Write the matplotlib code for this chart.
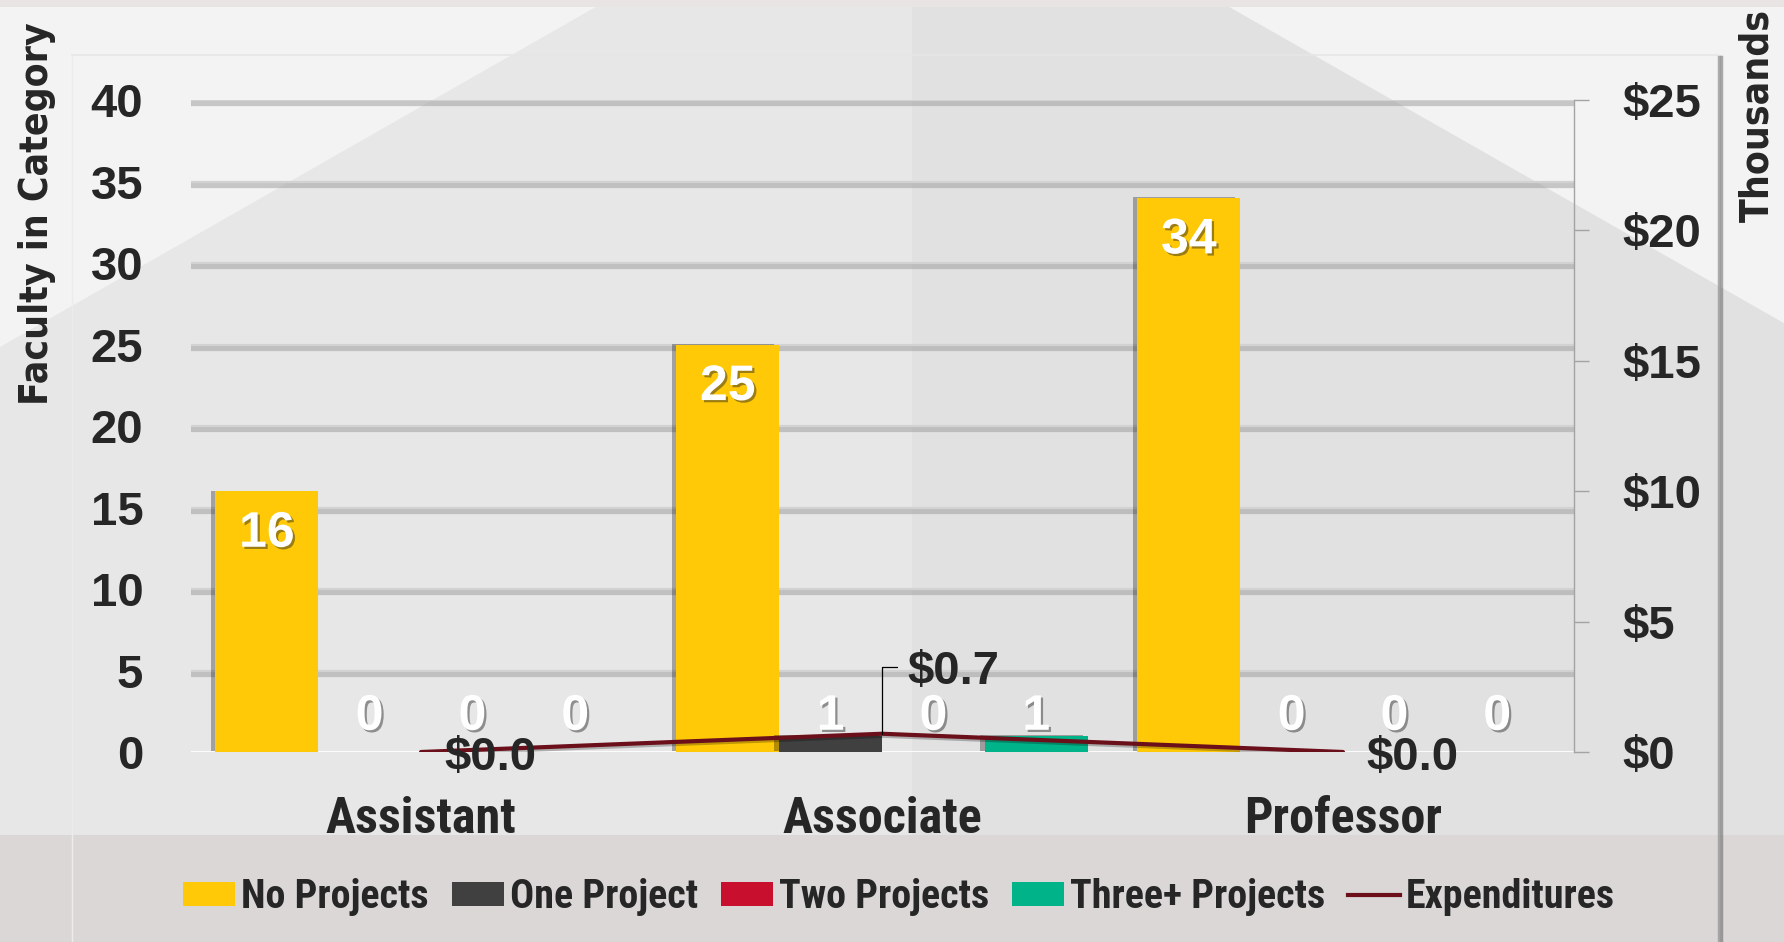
import matplotlib
matplotlib.use("Agg")
import matplotlib.pyplot as plt
import matplotlib.patheffects as pe
import matplotlib.transforms as mtransforms
from matplotlib.patches import Polygon, Rectangle, Patch
from matplotlib.lines import Line2D
from matplotlib import font_manager
import numpy as np

# ---------------- data ----------------
categories = ["Assistant", "Associate", "Professor"]
no_projects = [16, 25, 34]
one_project = [0, 1, 0]
two_projects = [0, 0, 0]
three_plus_projects = [0, 1, 0]
expenditures_k = [0.0, 0.7, 0.0]          # thousands of dollars
series_names = ["No Projects", "One Project", "Two Projects", "Three+ Projects"]
series_colors = ["#FFC907", "#404040", "#C8102E", "#00B388"]
line_name = "Expenditures"
line_color = "#6B0F1A"
left_ticks = [0, 5, 10, 15, 20, 25, 30, 35, 40]
right_ticks = [0, 5, 10, 15, 20, 25]
right_tick_labels = ["$0", "$5", "$10", "$15", "$20", "$25"]
left_title = "Faculty in Category"
right_title = "Thousands"

# ---------------- fonts ----------------
entries = font_manager.fontManager.ttflist
def has_bold(name):
    return any(f.name == name and (f.weight in ("bold", "semibold", "demibold", "heavy", "black")
                                   or (isinstance(f.weight, int) and f.weight >= 600))
               for f in entries)

NARROW = None
for cand in ["Roboto Condensed", "Archivo Narrow", "PT Sans Narrow", "Fira Sans Condensed",
             "Barlow Semi Condensed", "IBM Plex Sans Condensed", "Open Sans Condensed",
             "Liberation Sans Narrow"]:
    if has_bold(cand):
        NARROW = dict(family=cand, weight="bold")
        break
if NARROW is None:
    NARROW = dict(family="DejaVu Sans", stretch="condensed", weight="bold")
names = {f.name for f in entries}
REG = dict(family="Liberation Sans" if "Liberation Sans" in names else "DejaVu Sans", weight="bold")
TITLE = dict(family="DejaVu Sans", stretch="condensed", weight="bold")
TXT = "#262626"

W, H = 1784, 942
fig = plt.figure(figsize=(W / 100, H / 100), dpi=100)
fig.patch.set_facecolor("#f3f3f3")
renderer = fig.canvas.get_renderer()

def fit_size(text, target_px, kw, base=20.0):
    t = fig.text(0, 0, text, fontsize=base, **kw)
    w = t.get_window_extent(renderer).width
    t.remove()
    return base * target_px / w

cat_size = fit_size("Associate", 199, NARROW)
leg_size = fit_size("Three+ Projects", 255, NARROW)

# ---------------- background decoration (pixel coords) ----------------
bg = fig.add_axes([0, 0, 1, 1])
bg.set_xlim(0, W)
bg.set_ylim(H, 0)
bg.axis("off")
slope = 0.57
lx0, rx0, mid = 608, 1217, 912
bg.add_patch(Polygon([(lx0, 0), (mid, 0), (mid, H), (0, H), (0, lx0 * slope)],
                     closed=True, facecolor="#e7e7e7", edgecolor="none"))
bg.add_patch(Polygon([(mid, 0), (rx0, 0), (W, (W - rx0) * slope), (W, H), (mid, H)],
                     closed=True, facecolor="#e1e1e1", edgecolor="none"))
bg.add_patch(Rectangle((0, 0), W, 7, facecolor="#e8e4e4", edgecolor="none"))
bg.add_patch(Rectangle((0, 835), W, H - 835, facecolor="#dbd7d7", edgecolor="none"))
# panel edges
bg.plot([72, 1718], [55, 55], color="#e6e6e6", lw=1.2)
bg.plot([72, 72], [55, H], color="#ececec", lw=1.0)
bg.plot([1719, 1719], [57, H], color="#9a9a9a", lw=2.5, alpha=0.8,
        path_effects=[pe.SimpleLineShadow(offset=(1.5, 0), alpha=0.3), pe.Normal()])

# ---------------- main axes ----------------
ax = fig.add_axes([190.5 / W, 1 - 752 / H, (1573.5 - 190.5) / W, (752 - 100) / H])
ax.patch.set_visible(False)
n_series = len(series_names)
x = np.arange(len(categories))
bw = 0.223
all_series = [no_projects, one_project, two_projects, three_plus_projects]

ax.set_xlim(-0.5, len(categories) - 0.5)
ax.set_ylim(left_ticks[0], left_ticks[-1])
ax.set_yticks(left_ticks)
ax.set_yticklabels([str(t) for t in left_ticks])
ax.set_xticks([])
for s in ax.spines.values():
    s.set_visible(False)
ax.tick_params(axis="y", length=0, pad=34, labelcolor=TXT)
for lab in ax.get_yticklabels():
    lab.set_fontsize(34)
    lab.set_fontfamily(REG["family"])
    lab.set_fontweight("bold")

# gridlines
ax.set_axisbelow(True)
ax.yaxis.grid(True, color="#d2d2d2", lw=1.6)
for t, gl in zip(ax.get_yticks(), ax.get_ygridlines()):
    if t == 0:
        gl.set_color("white")
        gl.set_linewidth(2.0)
        gl.set_zorder(2.5)
    else:
        gl.set_path_effects([pe.SimpleLineShadow(offset=(0, -2.5), shadow_color="#9a9a9a",
                                                 alpha=0.5, linewidth=4.5), pe.Normal()])

bar_shadow = [pe.SimplePatchShadow(offset=(-3.5, 0.5), shadow_rgbFace="black", alpha=0.3), pe.Normal()]
label_shadow = [pe.withSimplePatchShadow(offset=(1.6, -1.6), shadow_rgbFace="#222222", alpha=0.45)]

for i, (vals, col, name) in enumerate(zip(all_series, series_colors, series_names)):
    xs = x + (i - (n_series - 1) / 2) * bw
    bars = ax.bar(xs, vals, width=bw, color=col, label=name, zorder=2)
    for b in bars:
        b.set_path_effects(bar_shadow)
    for xi, v in zip(xs, vals):
        if v >= 5:
            ax.annotate(str(v), xy=(xi, v), xytext=(0, -40), textcoords="offset points",
                        ha="center", va="baseline", color="white", fontsize=36,
                        path_effects=label_shadow, zorder=5, **REG)
        else:
            ax.annotate(str(v), xy=(xi, 0), xytext=(0, 16), textcoords="offset points",
                        ha="center", va="baseline", color="white", fontsize=36,
                        path_effects=label_shadow, zorder=5, **REG)

# category labels
trans_cat = mtransforms.blended_transform_factory(ax.transData, fig.transFigure)
for xi, c in zip(x, categories):
    ax.text(xi, 1 - 833 / H, c, transform=trans_cat, ha="center", va="baseline",
            fontsize=cat_size, color=TXT, **NARROW)

# ---------------- secondary axis ----------------
ax2 = ax.twinx()
ax2.patch.set_visible(False)
ax2.set_ylim(right_ticks[0], right_ticks[-1])
ax2.set_yticks(right_ticks)
ax2.set_yticklabels(right_tick_labels)
for k in ["top", "left", "bottom"]:
    ax2.spines[k].set_visible(False)
ax2.spines["right"].set_color("#a3a3a3")
ax2.spines["right"].set_linewidth(1.0)
ax2.tick_params(axis="y", direction="out", length=11, width=1.0, color="#a3a3a3",
                pad=24, labelcolor=TXT)
for lab in ax2.get_yticklabels():
    lab.set_fontsize(34)
    lab.set_fontfamily(REG["family"])
    lab.set_fontweight("bold")

ax2.plot(x, expenditures_k, color=line_color, lw=3.0, solid_capstyle="round", zorder=4,
         path_effects=[pe.SimpleLineShadow(offset=(1, -1.5), alpha=0.25), pe.Normal()])

for xi, v in zip(x, expenditures_k):
    txt = f"${v:.1f}"
    if v > 0:
        ax2.annotate(txt, xy=(xi, v), xytext=(18, 36), textcoords="offset points",
                     ha="left", va="baseline", fontsize=34, color=TXT, **REG,
                     zorder=6)
        # leader line
        ax2.annotate("", xy=(xi, v), xytext=(11, 48), textcoords="offset points",
                     arrowprops=dict(arrowstyle="-", color="black", lw=0.9,
                                     connectionstyle="angle,angleA=0,angleB=90,rad=0",
                                     shrinkA=0, shrinkB=0), zorder=6)
    else:
        ax2.annotate(txt, xy=(xi, v), xytext=(17, -13), textcoords="offset points",
                     ha="left", va="baseline", fontsize=34, color=TXT, **REG, zorder=6)

# ---------------- titles ----------------
fig.text(37 / W, 1 - 214 / H, left_title, rotation=90, ha="center", va="center",
         fontsize=28, color=TXT, **TITLE)
fig.text(1757 / W, 1 - 115 / H, right_title, rotation=90, ha="center", va="center",
         fontsize=28, color=TXT, **TITLE)

# ---------------- legend ----------------
handles = [Patch(facecolor=c, edgecolor="none") for c in series_colors]
handles.append(Line2D([], [], color=line_color, lw=3))
labels = series_names + [line_name]
fs_px = leg_size * 100 / 72
leg = fig.legend(handles, labels, loc="center", bbox_to_anchor=(899 / W, 1 - 897 / H),
                 ncol=5, frameon=False, borderpad=0, handlelength=52 / fs_px,
                 handleheight=22 / fs_px, handletextpad=6 / fs_px, columnspacing=23 / fs_px,
                 prop=font_manager.FontProperties(size=leg_size, **NARROW))
for t in leg.get_texts():
    t.set_color(TXT)

fig.savefig("out.png", dpi=100, facecolor=fig.get_facecolor())
